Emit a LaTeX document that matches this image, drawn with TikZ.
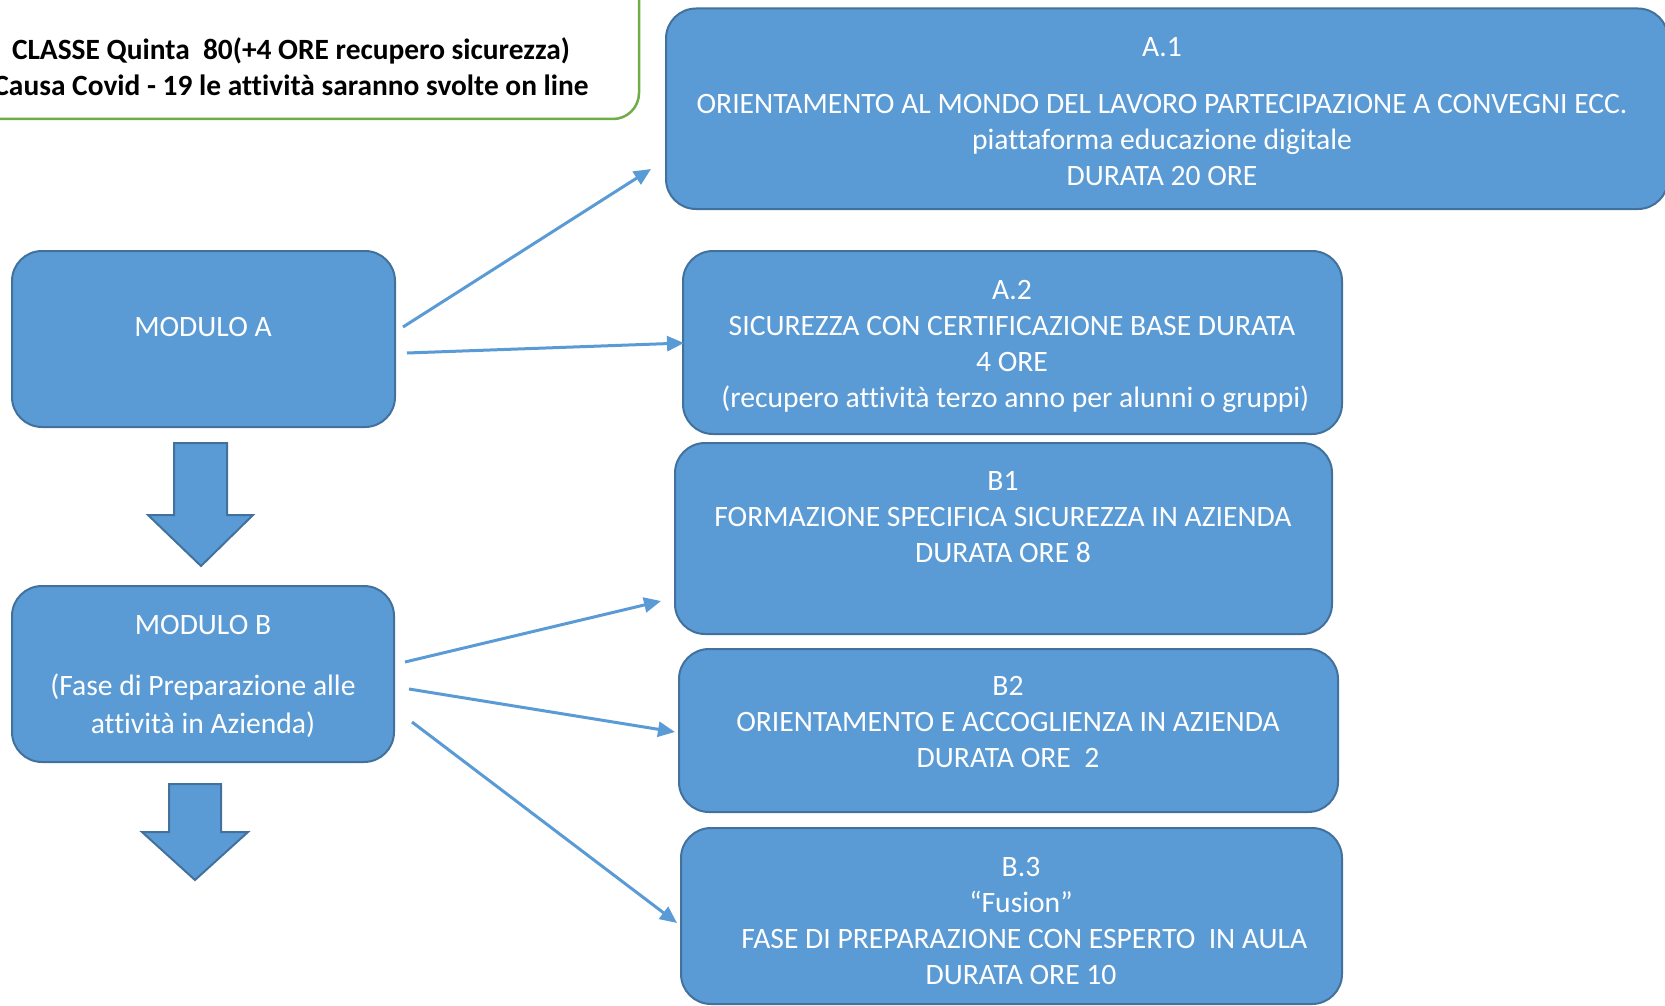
\documentclass[tikz,border=0pt]{standalone}
\usepackage{fontspec}
\setmainfont{Carlito}[Ligatures={NoCommon}]
\usetikzlibrary{arrows.meta}
\definecolor{boxblue}{HTML}{5B9BD5}
\definecolor{boxedge}{HTML}{41719C}
\definecolor{greenedge}{HTML}{70AD47}
\begin{document}
\begin{tikzpicture}[x=1pt,y=-1pt,
  bluebox/.style={draw=boxedge, line width=2pt, fill=boxblue, rounded corners=30pt, inner sep=0pt, outer sep=0pt},
  greenbox/.style={draw=greenedge, line width=2.5pt, fill=white, rounded corners=26pt, inner sep=0pt, outer sep=0pt},
  boxtext/.style={text=white, align=center, inner sep=0pt, font=\fontsize{29.6}{36}\selectfont},
  titletext/.style={text=black, align=center, inner sep=0pt, font=\fontsize{29.4}{36}\selectfont\bfseries},
  blockarrow/.style={draw=boxedge, line width=2pt, fill=boxblue, line join=miter},
  link/.style={draw=boxblue, line width=3pt, -{Triangle[length=17pt,width=15pt]}}
]
\useasboundingbox (0,0) rectangle (1665,1006);
\clip (0,0) rectangle (1665,1006);

% title box
\node[greenbox, minimum width=699pt, minimum height=149pt] (title) at (289.5,44.5) {};
\node[titletext] (titleT) at (291,67) {CLASSE Quinta\ \ 80(+4 ORE recupero sicurezza)\\Causa Covid - 19 le attività saranno svolte on line};

% boxes
\node[bluebox, minimum width=1002pt, minimum height=200.5pt] (a1) at (1167,108.75) {};
\node[bluebox, minimum width=659pt, minimum height=183pt] (a2) at (1012.5,342.5) {};
\node[bluebox, minimum width=657pt, minimum height=191pt] (b1) at (1003.5,538.5) {};
\node[bluebox, minimum width=659pt, minimum height=163pt] (b2) at (1008.5,730.5) {};
\node[bluebox, minimum width=661pt, minimum height=176pt] (b3) at (1011.5,916) {};
\node[bluebox, minimum width=383pt, minimum height=176pt] (ma) at (203.5,339) {};
\node[bluebox, minimum width=382pt, minimum height=176pt] (mb) at (203,674) {};

% texts
\node[boxtext] (a1T) at (1162,111.5) {A.1\\[21pt]ORIENTAMENTO AL MONDO DEL LAVORO PARTECIPAZIONE A CONVEGNI ECC.\\piattaforma educazione digitale\\DURATA 20 ORE};
\node[boxtext] (a2T) at (1012,346) {A.2\\SICUREZZA CON CERTIFICAZIONE BASE DURATA\\4 ORE\\\ (recupero attività terzo anno per alunni o gruppi)};
\node[boxtext] (b1T) at (1003,517) {B1\\FORMAZIONE SPECIFICA SICUREZZA IN AZIENDA\\DURATA ORE 8};
\node[boxtext] (b2T) at (1008,722) {B2\\ORIENTAMENTO E ACCOGLIENZA IN AZIENDA\\DURATA ORE\ \ 2};
\node[boxtext] (b3T) at (1021,920.5) {B.3\\“Fusion”\\\ FASE DI PREPARAZIONE CON ESPERTO\ \ IN AULA\\DURATA ORE 10};
\node[boxtext] (maT) at (203,327) {MODULO A};
\node[boxtext] (mbT) at (203,676.5) {MODULO B\\[25pt](Fase di Preparazione alle\\[2pt]attività in Azienda)};

% block arrows
\draw[blockarrow] (174,443) -- (227,443) -- (227,515) -- (253,515) -- (201,566) -- (148,515) -- (174,515) -- cycle;
\draw[blockarrow] (169,784) -- (221,784) -- (221,832) -- (248,832) -- (195,880) -- (142,832) -- (169,832) -- cycle;

% connector ends
\coordinate (s1) at (403,327);
\coordinate (e1) at (651,169);
\coordinate (s2) at (407,353);
\coordinate (e2) at (684,343);
\coordinate (s3) at (405,662);
\coordinate (e3) at (661,601);
\coordinate (s4) at (409,689);
\coordinate (e4) at (675,732);
\coordinate (s5) at (412,722);
\coordinate (e5) at (677,923);

\draw[link] (s1) -- (e1);
\draw[link] (s2) -- (e2);
\draw[link] (s3) -- (e3);
\draw[link] (s4) -- (e4);
\draw[link] (s5) -- (e5);
\end{tikzpicture}
\end{document}
